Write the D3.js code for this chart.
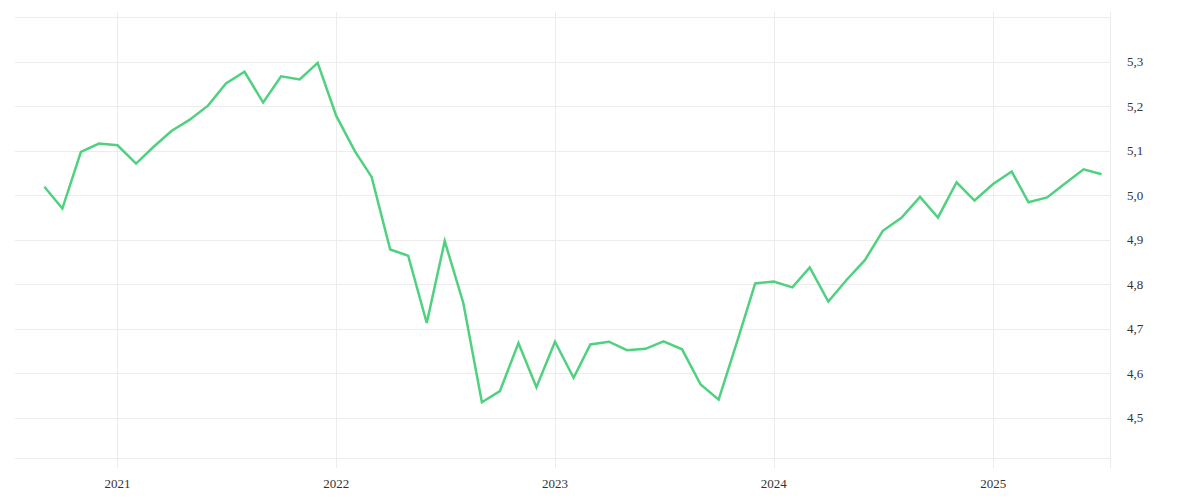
<!DOCTYPE html>
<html>
<head>
<meta charset="utf-8">
<script src="https://cdn.jsdelivr.net/npm/d3@7"></script>
<style>
  html, body { margin: 0; padding: 0; background: #ffffff; }
  svg { display: block; }
  text { font-family: "Liberation Serif", "DejaVu Serif", serif; font-size: 13px; fill: #333333; }
</style>
</head>
<body>
<svg id="chart" width="1200" height="500"></svg>
<script>
// ---- data ----
const startMonth = "2020-09";
const values = [
  5.019, 4.970, 5.097, 5.116,
  5.112, 5.071, 5.107, 5.144, 5.169, 5.201, 5.251, 5.277, 5.208, 5.267, 5.260, 5.297,
  5.178, 5.099, 5.041, 4.878, 4.864, 4.713, 4.897, 4.758, 4.535, 4.560, 4.668, 4.569,
  4.671, 4.590, 4.665, 4.671, 4.652, 4.655, 4.672, 4.654, 4.575, 4.541, 4.672, 4.802,
  4.806, 4.793, 4.838, 4.761, 4.809, 4.854, 4.920, 4.949, 4.996, 4.950, 5.029, 4.988,
  5.025, 5.053, 4.984, 4.995, 5.026, 5.058, 5.047
];
const yearTicks = ["2021", "2022", "2023", "2024", "2025"];
const yGridValues = [4.5, 4.6, 4.7, 4.8, 4.9, 5.0, 5.1, 5.2, 5.3, 5.4];
const yLabelValues = [4.5, 4.6, 4.7, 4.8, 4.9, 5.0, 5.1, 5.2, 5.3];

// ---- layout ----
const plotLeft = 15, plotRight = 1110, plotTop = 17, plotBottom = 458;
const gridTop = 12, gridBottom = 468;

const parseMonth = d3.utcParse("%Y-%m");
const start = parseMonth(startMonth);
const dates = values.map((v, i) => d3.utcMonth.offset(start, i));
const data = values.map((v, i) => ({ date: dates[i], value: v }));

const x = d3.scaleUtc()
  .domain([new Date(Date.UTC(2020, 6, 14)), new Date(Date.UTC(2025, 6, 15))])
  .range([plotLeft, plotRight]);
const y = d3.scaleLinear().domain([4.41, 5.4]).range([plotBottom, plotTop]);

const svg = d3.select("#chart");
const gridColor = "#ececec";

// horizontal grid
svg.append("g").selectAll("line").data(yGridValues).join("line")
  .attr("x1", plotLeft).attr("x2", plotRight)
  .attr("y1", d => Math.round(y(d)) + 0.5).attr("y2", d => Math.round(y(d)) + 0.5)
  .attr("stroke", gridColor).attr("stroke-width", 1);
// bottom line
svg.append("line")
  .attr("x1", plotLeft).attr("x2", plotRight)
  .attr("y1", plotBottom + 0.5).attr("y2", plotBottom + 0.5)
  .attr("stroke", gridColor);

// vertical year grid
const yearDates = yearTicks.map(t => d3.utcParse("%Y")(t));
svg.append("g").selectAll("line").data(yearDates).join("line")
  .attr("x1", d => Math.round(x(d)) + 0.5).attr("x2", d => Math.round(x(d)) + 0.5)
  .attr("y1", gridTop).attr("y2", gridBottom)
  .attr("stroke", gridColor);
// right border
svg.append("line")
  .attr("x1", plotRight + 0.5).attr("x2", plotRight + 0.5)
  .attr("y1", gridTop).attr("y2", gridBottom)
  .attr("stroke", gridColor);

// x labels
svg.append("g").selectAll("text").data(yearDates).join("text")
  .attr("x", d => x(d)).attr("y", 488)
  .attr("text-anchor", "middle")
  .text((d, i) => yearTicks[i]);

// y labels
const fmt = v => d3.format(".1f")(v).replace(".", ",");
svg.append("g").selectAll("text").data(yLabelValues).join("text")
  .attr("x", 1127).attr("y", d => y(d))
  .attr("dy", "0.35em")
  .attr("text-anchor", "start")
  .text(d => fmt(d));

// line
const line = d3.line().x(d => x(d.date)).y(d => y(d.value));
svg.append("path").datum(data)
  .attr("d", line)
  .attr("fill", "none")
  .attr("stroke", "#4fd17f")
  .attr("stroke-width", 2.5)
  .attr("stroke-linejoin", "miter")
  .attr("stroke-linecap", "butt");
</script>
</body>
</html>
